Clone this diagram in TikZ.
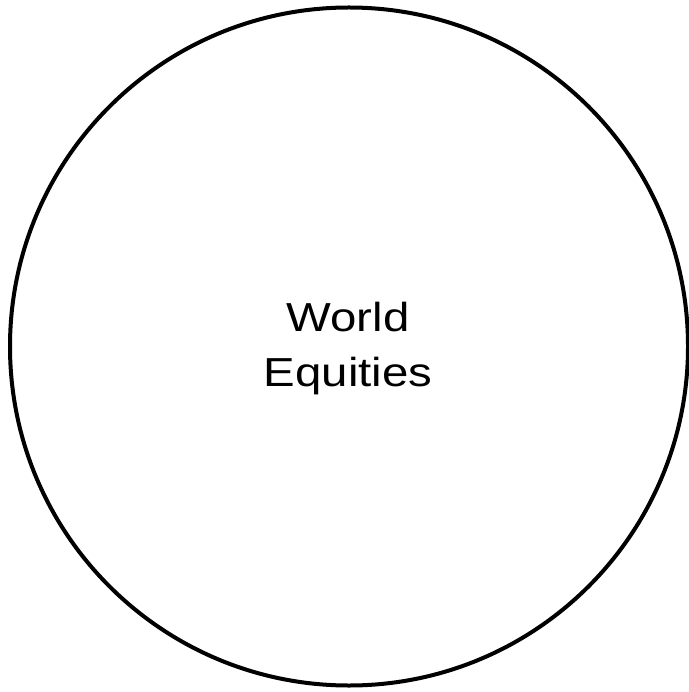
\documentclass[tikz,border=0pt]{standalone}
\usepackage{fontspec}
\setmainfont{Liberation Sans}
\newfontfamily\widefont[FakeStretch=1.17]{Liberation Sans}
\begin{document}
\begin{tikzpicture}[x=1pt,y=-1pt,
  bubble/.style={circle,draw=black,line width=4pt,minimum size=678pt,inner sep=0pt},
  lbl/.style={font=\widefont\fontsize{40.5}{55}\selectfont,align=center,inner sep=0pt}]
\useasboundingbox (0,0) rectangle (688,692);
\node[bubble] (c) at (349,346.5) {};
\node[lbl] (t) at (348,349) {World\\Equities};
\end{tikzpicture}
\end{document}
